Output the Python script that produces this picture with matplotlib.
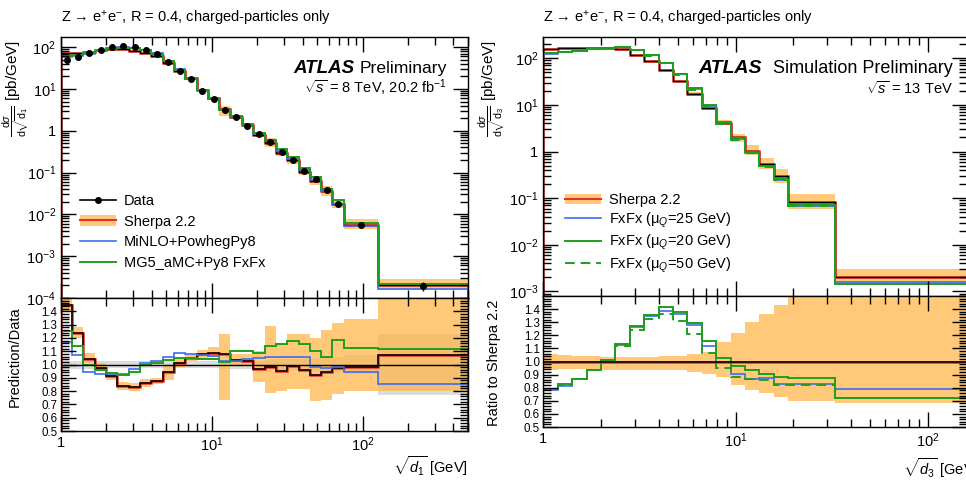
import numpy as np
import matplotlib
matplotlib.use("Agg")
import matplotlib.pyplot as plt
from matplotlib.ticker import FixedLocator, LogLocator, MultipleLocator, FuncFormatter, NullFormatter
from matplotlib.lines import Line2D
from matplotlib.patches import Patch

plt.rcParams['font.family'] = ['Liberation Sans', 'DejaVu Sans']
plt.rcParams['mathtext.fontset'] = 'custom'
plt.rcParams['mathtext.rm'] = 'Liberation Sans'
plt.rcParams['mathtext.it'] = 'Liberation Sans:italic'
plt.rcParams['mathtext.bf'] = 'Liberation Sans:bold'

# ---- sqrt(d1), 8 TeV data vs. generators ----
d1_edges = [1.00, 1.19, 1.41, 1.68, 2.00, 2.37, 2.82, 3.35, 3.98, 4.73, 5.62, 6.68, 7.94,
            9.44, 11.2, 13.3, 15.8, 18.8, 22.4, 26.6, 31.6, 37.6, 44.7, 53.1, 63.1, 75.0,
            126.0, 500.0]
data_d1 = [49.5, 57.5, 72, 86, 100, 107, 100, 86, 69, 45, 27, 17, 8.9, 5.66, 3.13, 2.1,
           1.30, 0.82, 0.527, 0.313, 0.198, 0.110, 0.0695, 0.038, 0.0182, 0.0057, 1.92e-4]
data_unc_d1 = [0.03, 0.03, 0.03, 0.03, 0.025, 0.025, 0.025, 0.025, 0.025, 0.025, 0.025,
               0.025, 0.025, 0.025, 0.03, 0.03, 0.03, 0.03, 0.035, 0.04, 0.04, 0.045, 0.05,
               0.05, 0.06, 0.07, 0.23]
sherpa_ratio_d1 = [1.45, 1.24, 1.045, 0.977, 0.91, 0.84, 0.83, 0.86, 0.875, 0.94, 1.01, 1.05,
                   1.08, 1.09, 1.08, 1.035, 1.03, 0.97, 0.98, 0.95, 0.99, 0.96, 0.92, 0.94,
                   0.975, 0.985, 1.075]
sherpa_lo_d1 = [1.40, 1.20, 1.01, 0.95, 0.88, 0.81, 0.80, 0.83, 0.85, 0.88, 0.98, 1.03, 1.05,
                1.06, 0.73, 1.00, 0.99, 0.87, 0.785, 0.80, 0.815, 0.815, 0.725, 0.73, 0.777,
                0.80, 0.80]
sherpa_hi_d1 = [1.50, 1.285, 1.085, 1.01, 0.94, 0.87, 0.86, 0.89, 0.90, 0.99, 1.05, 1.08, 1.11,
                1.13, 1.23, 1.08, 1.08, 1.10, 1.29, 1.16, 1.233, 1.23, 1.20, 1.26, 1.315,
                1.346, 1.52]
minlo_ratio_d1 = [1.17, 1.07, 0.94, 0.93, 0.925, 0.93, 0.97, 1.01, 1.03, 1.06, 1.085, 1.077,
                  1.07, 1.065, 1.03, 1.03, 1.04, 1.05, 1.06, 1.06, 1.06, 1.055, 0.98, 0.975,
                  0.98, 0.945, 0.855]
mg5_ratio_d1 = [1.25, 1.14, 0.995, 0.956, 0.936, 0.918, 0.944, 1.0, 1.008, 1.033, 1.046, 1.046,
                1.04, 1.04, 1.02, 1.098, 1.098, 1.09, 1.136, 1.156, 1.18, 1.156, 1.105, 1.06,
                1.187, 1.123, 1.12]

# ---- sqrt(d3), 13 TeV simulation ----
d3_edges = [1.00, 1.19, 1.41, 1.68, 2.00, 2.37, 2.82, 3.35, 3.98, 4.73, 5.62, 6.68, 7.94,
            9.44, 11.2, 13.3, 15.8, 18.8, 33.0, 160.0]
sherpa_d3 = [160, 168, 168, 168, 167, 154, 120, 86, 57, 33, 17.5, 8.6, 4.15, 2.0, 1.05,
             0.546, 0.292, 0.0824, 0.00201]
sherpa_lo_d3 = [0.935, 0.94, 0.94, 0.94, 0.935, 0.935, 0.935, 0.935, 0.935, 0.935, 0.92,
                0.907, 0.88, 0.82, 0.785, 0.757, 0.726, 0.70, 0.68]
sherpa_hi_d3 = [1.055, 1.05, 1.045, 1.04, 1.035, 1.035, 1.035, 1.035, 1.04, 1.045, 1.06,
                1.072, 1.15, 1.215, 1.30, 1.363, 1.43, 1.52, 1.52]
fxfx25_ratio_d3 = [0.78, 0.813, 0.864, 0.933, 1.009, 1.128, 1.263, 1.347, 1.385, 1.36, 1.276,
                   1.116, 0.996, 0.907, 0.87, 0.875, 0.83, 0.825, 0.79]
fxfx20_ratio_d3 = [0.793, 0.826, 0.869, 0.938, 1.014, 1.136, 1.268, 1.357, 1.416, 1.378, 1.294,
                   1.156, 1.03, 0.963, 0.935, 0.905, 0.88, 0.875, 0.725]
fxfx50_ratio_d3 = [0.79, 0.823, 0.866, 0.935, 1.01, 1.12, 1.243, 1.322, 1.365, 1.309, 1.212,
                   1.065, 0.953, 0.882, 0.865, 0.86, 0.82, 0.82, 0.72]

ratio_ticks = [0.5, 0.6, 0.7, 0.8, 0.9, 1.0, 1.1, 1.2, 1.3, 1.4]

ORANGE = '#ffb340'
BAND_ALPHA = 0.7
RED = '#e8302a'
BLUE = '#3d6cf0'
GREEN = '#1e9e1e'
GREY = '#dcdcdc'


def log_label(v, pos):
    if v <= 0:
        return ''
    e = int(round(np.log10(v)))
    if e == 0:
        return '1'
    return r'$10^{%d}$' % e


def style_axes(ax):
    ax.set_xscale('log')
    ax.tick_params(which='both', direction='in', top=True, right=True, labelsize=10.5)
    ax.tick_params(which='major', length=11, width=1)
    ax.tick_params(which='minor', length=6, width=1)
    ax.xaxis.set_major_locator(LogLocator(base=10, numticks=10))
    ax.xaxis.set_minor_locator(LogLocator(base=10, subs=np.arange(2, 10), numticks=20))
    for s in ax.spines.values():
        s.set_linewidth(1.0)


def style_main(ax, ylim):
    style_axes(ax)
    ax.set_yscale('log')
    ax.set_ylim(*ylim)
    ax.yaxis.set_major_locator(LogLocator(base=10, numticks=12))
    ax.yaxis.set_minor_locator(LogLocator(base=10, subs=np.arange(2, 10), numticks=20))
    ax.yaxis.set_major_formatter(FuncFormatter(log_label))
    ax.yaxis.set_minor_formatter(NullFormatter())
    ax.xaxis.set_major_formatter(NullFormatter())
    ax.xaxis.set_minor_formatter(NullFormatter())


def style_ratio(ax):
    style_axes(ax)
    ax.set_ylim(0.5, 1.5)
    ax.yaxis.set_major_locator(FixedLocator(ratio_ticks))
    ax.yaxis.set_minor_locator(MultipleLocator(0.02))
    ax.yaxis.set_major_formatter(FuncFormatter(lambda v, p: '%.1f' % v))
    ax.xaxis.set_major_formatter(FuncFormatter(log_label))
    ax.xaxis.set_minor_formatter(NullFormatter())
    ax.tick_params(axis='y', labelsize=8.3, pad=2.5)


fig = plt.figure(figsize=(9.66, 4.82), dpi=100)

axL = fig.add_axes([0.0631, 0.3817, 0.4214, 0.5415])
axLr = fig.add_axes([0.0631, 0.1058, 0.4214, 0.2759])
axR = fig.add_axes([0.5624, 0.3859, 0.4386, 0.5373])
axRr = fig.add_axes([0.5624, 0.1141, 0.4386, 0.2718])

# left: main panel
e1 = np.array(d1_edges)
data1 = np.array(data_d1)
sh1 = data1 * np.array(sherpa_ratio_d1)
axL.stairs(data1 * np.array(sherpa_hi_d1), e1, baseline=data1 * np.array(sherpa_lo_d1),
           fill=True, color=ORANGE, alpha=BAND_ALPHA, lw=0)
axL.stairs(sh1, e1, color=RED, lw=1.8)
axL.stairs(sh1, e1, color='k', lw=1.0)
axL.stairs(data1 * np.array(minlo_ratio_d1), e1, color=BLUE, lw=1.2)
axL.stairs(data1 * np.array(mg5_ratio_d1), e1, color=GREEN, lw=1.4)
centres1 = np.sqrt(e1[:-1] * e1[1:])
axL.errorbar(centres1, data1, yerr=data1 * np.array(data_unc_d1), fmt='o', color='k',
             ms=4, lw=1, zorder=5)
axL.set_xlim(1, 500)
style_main(axL, (1e-4, 175))

# left: ratio panel
unc1 = np.array(data_unc_d1)
axLr.stairs(1 + unc1, e1, baseline=1 - unc1, fill=True, color=GREY, lw=0)
axLr.stairs(sherpa_hi_d1, e1, baseline=sherpa_lo_d1, fill=True, color=ORANGE,
            alpha=BAND_ALPHA, lw=0)
axLr.axhline(1.0, color='k', lw=1.0)
axLr.stairs(sherpa_ratio_d1, e1, color=RED, lw=1.8)
axLr.stairs(sherpa_ratio_d1, e1, color='k', lw=1.1)
axLr.stairs(minlo_ratio_d1, e1, color=BLUE, lw=1.2)
axLr.stairs(mg5_ratio_d1, e1, color=GREEN, lw=1.4)
axLr.set_xlim(1, 500)
style_ratio(axLr)

# right: main panel
e3 = np.array(d3_edges)
sh3 = np.array(sherpa_d3)
axR.stairs(sh3 * np.array(sherpa_hi_d3), e3, baseline=sh3 * np.array(sherpa_lo_d3),
           fill=True, color=ORANGE, alpha=BAND_ALPHA, lw=0)
axR.stairs(sh3, e3, color=RED, lw=1.8)
axR.stairs(sh3, e3, color='k', lw=1.0)
axR.stairs(sh3 * np.array(fxfx25_ratio_d3), e3, color=BLUE, lw=1.2)
axR.stairs(sh3 * np.array(fxfx20_ratio_d3), e3, color=GREEN, lw=1.4)
axR.stairs(sh3 * np.array(fxfx50_ratio_d3), e3, color=GREEN, lw=1.4, ls=(0, (5, 3)))
axR.set_xlim(1, 160)
style_main(axR, (8e-4, 285))

# right: ratio panel
axRr.stairs(sherpa_hi_d3, e3, baseline=sherpa_lo_d3, fill=True, color=ORANGE,
            alpha=BAND_ALPHA, lw=0)
axRr.axhline(1.0, color=RED, lw=1.8)
axRr.axhline(1.0, color='k', lw=1.1)
axRr.stairs(fxfx25_ratio_d3, e3, color=BLUE, lw=1.2)
axRr.stairs(fxfx20_ratio_d3, e3, color=GREEN, lw=1.4)
axRr.stairs(fxfx50_ratio_d3, e3, color=GREEN, lw=1.4, ls=(0, (5, 3)))
axRr.set_xlim(1, 160)
style_ratio(axRr)

# titles and labels
title = 'Z → e$^{+}$e$^{-}$, R = 0.4, charged-particles only'
fig.text(61 / 966, 1 - 18 / 482, title, fontsize=10.5, va='center', ha='left')
fig.text(543 / 966, 1 - 18 / 482, title, fontsize=10.5, va='center', ha='left')

fig.text(293 / 966, 1 - 69 / 482, 'ATLAS', fontsize=13.5, fontweight='bold', style='italic',
         ha='left', va='center')
fig.text(447 / 966, 1 - 69 / 482, 'Preliminary', fontsize=12.6, ha='right', va='center')
fig.text(447 / 966, 1 - 88 / 482, r'$\sqrt{s}$ = 8 TeV, 20.2 fb$^{-1}$', fontsize=10.5,
         ha='right', va='center')

fig.text(698 / 966, 1 - 69 / 482, 'ATLAS', fontsize=14, fontweight='bold', style='italic',
         ha='left', va='center')
fig.text(953 / 966, 1 - 69 / 482, 'Simulation Preliminary', fontsize=13, ha='right',
         va='center')
fig.text(953 / 966, 1 - 88 / 482, r'$\sqrt{s}$ = 13 TeV', fontsize=10.5,
         ha='right', va='center')

ylab1 = r'$\frac{\mathrm{d}\sigma}{\mathrm{d}\sqrt{\mathrm{d}_1}}$ [pb/GeV]'
ylab3 = r'$\frac{\mathrm{d}\sigma}{\mathrm{d}\sqrt{\mathrm{d}_3}}$ [pb/GeV]'
fig.text(17 / 966, 1 - 88 / 482, ylab1, rotation=90, fontsize=11, ha='center', va='center')
fig.text(493 / 966, 1 - 88 / 482, ylab3, rotation=90, fontsize=11, ha='center', va='center')
fig.text(15 / 966, 1 - 357 / 482, 'Prediction/Data', rotation=90, fontsize=10.5,
         ha='center', va='center')
fig.text(494 / 966, 1 - 363 / 482, 'Ratio to Sherpa 2.2', rotation=90, fontsize=10.5,
         ha='center', va='center')
fig.text(468 / 966, 1 - 466 / 482, r'$\sqrt{d_1}$ [GeV]', fontsize=10.5, ha='right',
         va='center')
fig.text(903 / 966, 1 - 468 / 482, r'$\sqrt{d_3}$ [GeV]', fontsize=10.5, ha='left',
         va='center')

# legends
band_handle = (Patch(facecolor=ORANGE, alpha=BAND_ALPHA, lw=0), Line2D([], [], color=RED, lw=1.5))
hL = [Line2D([], [], color='k', marker='o', ms=4, lw=1.2), band_handle,
      Line2D([], [], color=BLUE, lw=1.2), Line2D([], [], color=GREEN, lw=1.4)]
lL = ['Data', 'Sherpa 2.2', 'MiNLO+PowhegPy8', 'MG5_aMC+Py8 FxFx']
fig.legend(hL, lL, loc='upper left', bbox_to_anchor=(80 / 966, 1 - 194 / 482),
           frameon=False, fontsize=10.5, handlelength=2.5, handletextpad=0.5,
           labelspacing=0.45, borderpad=0, borderaxespad=0)

hR = [band_handle, Line2D([], [], color=BLUE, lw=1.2), Line2D([], [], color=GREEN, lw=1.4),
      Line2D([], [], color=GREEN, lw=1.4, ls=(0, (5, 3)))]
lR = ['Sherpa 2.2', 'FxFx (μ$_{Q}$=25 GeV)', 'FxFx (μ$_{Q}$=20 GeV)',
      'FxFx (μ$_{Q}$=50 GeV)']
fig.legend(hR, lR, loc='upper left', bbox_to_anchor=(565 / 966, 1 - 193 / 482),
           frameon=False, fontsize=10.5, handlelength=2.5, handletextpad=0.5,
           labelspacing=0.22, borderpad=0, borderaxespad=0)

fig.savefig('out.png', dpi=100)
